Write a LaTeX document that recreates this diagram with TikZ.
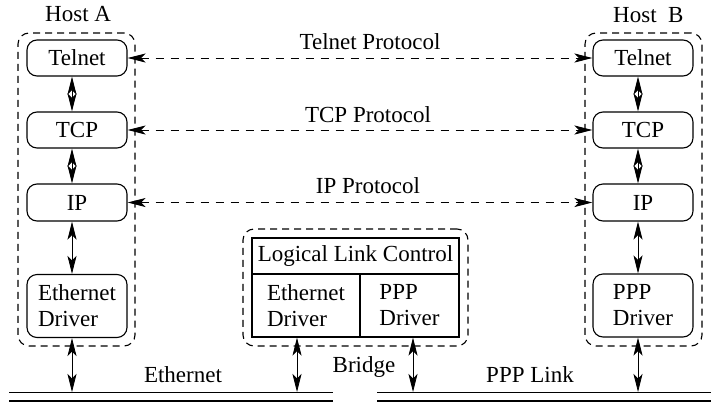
\documentclass[tikz,border=0pt]{standalone}
\usepackage{fontspec}
\setmainfont{Liberation Serif}
\usetikzlibrary{arrows.meta}
\begin{document}
\begin{tikzpicture}[x=1pt,y=-1pt,
  every node/.style={font=\fontsize{23}{26}\selectfont, inner sep=0pt},
  layer/.style={draw, rounded corners=10pt, line width=1.1pt, minimum width=100pt, minimum height=36pt, align=left},
  cell/.style={draw, line width=1.1pt, align=left},
  group/.style={draw, rounded corners=11pt, line width=1.1pt, dash pattern=on 7pt off 5pt},
  link/.style={line width=0.8pt, {Stealth[length=18pt,width=9pt,inset=4.5pt]}-{Stealth[length=18pt,width=9pt,inset=4.5pt]}},
  peer/.style={link, dash pattern=on 8pt off 7pt},
  wire/.style={line width=1pt},
  wirelow/.style={line width=1.6pt}
]
\useasboundingbox (0,0) rectangle (711,407);

% dashed group outlines
\node[group, minimum width=117pt, minimum height=313pt] (hostA) at (76.5,189.5) {};
\node[group, minimum width=117pt, minimum height=313pt] (hostB) at (643.5,189.5) {};
\node[group, minimum width=225pt, minimum height=117pt] (bridge) at (355.5,287.5) {};

\node[anchor=base west] (hostAlabel) at (45,21) {Host A};
\node[anchor=base west] (hostBlabel) at (613,22) {Host\ \ B};

% host A stack
\node[layer] (telA) at (77,58) {Telnet};
\node[layer] (tcpA) at (77,130) {TCP};
\node[layer, minimum height=37pt] (ipA) at (77,202.5) {IP};
\node[layer, minimum height=63pt] (drvA) at (77,306) {Ethernet\\Driver};

% host B stack
\node[layer] (telB) at (643,58) {Telnet};
\node[layer] (tcpB) at (643,130) {TCP};
\node[layer, minimum height=37pt] (ipB) at (643,202.5) {IP};
\node[layer, minimum height=63pt] (drvB) at (643,305.5) {PPP\\Driver};

% bridge cells
\node[cell, minimum width=207pt, minimum height=36pt] (llc) at (355.5,256) {Logical Link Control};
\node[cell, minimum width=108pt, minimum height=63pt] (ethC) at (306,305.5) {Ethernet\\Driver};
\node[cell, minimum width=99pt, minimum height=63pt] (pppC) at (409.5,305.5) {PPP\\Driver};

% peer protocols
\draw[peer] (telA.east) -- (telB.west);
\draw[peer] (tcpA.east) -- (tcpB.west);
\draw[peer] (ipA.east) -- (ipB.west);
\node[anchor=base] (telP) at (370,49) {Telnet Protocol};
\node[anchor=base] (tcpP) at (368,122) {TCP Protocol};
\node[anchor=base] (ipP) at (368,193) {IP Protocol};

% physical media
\coordinate (ethL) at (9,392);
\coordinate (ethR) at (333,392);
\coordinate (pppL) at (377,392);
\coordinate (pppR) at (711,392);
\draw[wire] (ethL) -- (ethR);
\draw[wirelow] (9,401) -- (333,401);
\draw[wire] (pppL) -- (pppR);
\draw[wirelow] (377,401) -- (711,401);
\node[anchor=base] (ethT) at (183,382) {Ethernet};
\node[anchor=base] (pppT) at (530,382) {PPP Link};
\node[anchor=base] (brT) at (364,372) {Bridge};

% vertical attachment points
\coordinate (aX) at (72,0);
\coordinate (bX) at (638,0);
\coordinate (eX) at (297,0);
\coordinate (pX) at (413,0);

% layer-to-layer arrows
\draw[link] (telA.south -| aX) -- (tcpA.north -| aX);
\draw[link] (tcpA.south -| aX) -- (ipA.north -| aX);
\draw[link] (ipA.south -| aX) -- (drvA.north -| aX);
\draw[link] (drvA.south -| aX) -- (aX |- ethL);

\draw[link] (telB.south -| bX) -- (tcpB.north -| bX);
\draw[link] (tcpB.south -| bX) -- (ipB.north -| bX);
\draw[link] (ipB.south -| bX) -- (drvB.north -| bX);
\draw[link] (drvB.south -| bX) -- (bX |- pppL);

\draw[link] (ethC.south -| eX) -- (eX |- ethL);
\draw[link] (pppC.south -| pX) -- (pX |- pppL);
\end{tikzpicture}
\end{document}
